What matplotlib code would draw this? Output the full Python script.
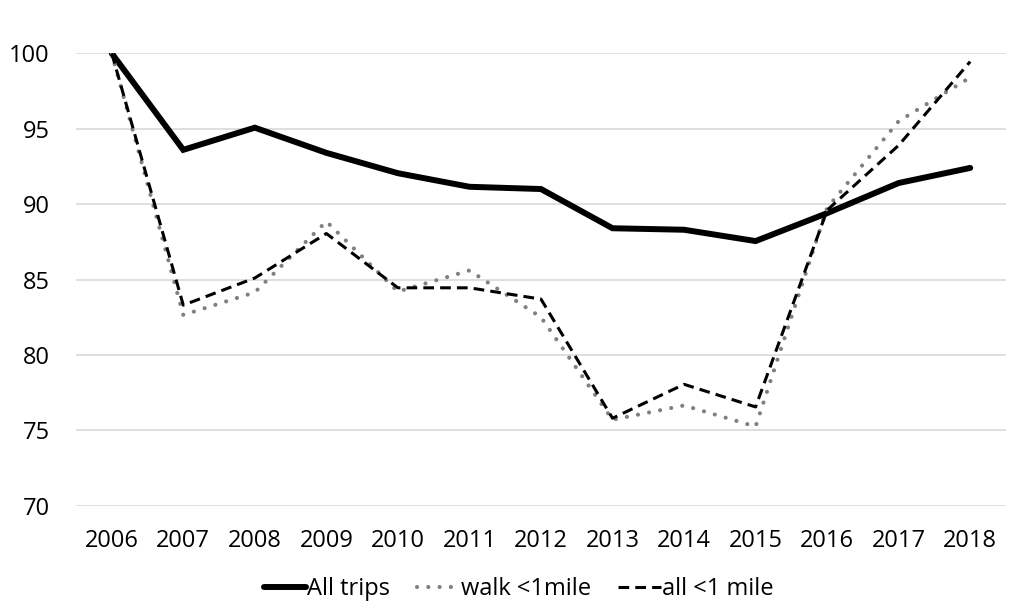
import matplotlib
matplotlib.use("Agg")
import matplotlib.pyplot as plt

years = ["2006", "2007", "2008", "2009", "2010", "2011", "2012",
         "2013", "2014", "2015", "2016", "2017", "2018"]
all_trips = [100, 93.6, 95.07, 93.4, 92.05, 91.15, 91.0, 88.4, 88.3, 87.55, 89.4, 91.4, 92.4]
walk_lt1 = [100, 82.65, 84.15, 88.85, 84.2, 85.6, 82.5, 75.7, 76.65, 75.25, 89.75, 95.5, 98.4]
all_lt1 = [100, 83.3, 85.1, 88.05, 84.45, 84.45, 83.7, 75.8, 78.05, 76.55, 89.6, 93.9, 99.45]
yticks = [70, 75, 80, 85, 90, 95, 100]

plt.rcParams['font.family'] = ['Open Sans', 'DejaVu Sans']

fig = plt.figure(figsize=(10.24, 6.15), dpi=100)
ax = fig.add_axes([0.0742, 0.1777, 0.9082, 0.7356])

x = list(range(len(years)))
ax.plot(x, all_trips, color='black', linewidth=4.3, solid_capstyle='round',
        solid_joinstyle='miter', label='All trips')
ax.plot(x, walk_lt1, color='#808080', linewidth=3.0, linestyle=(0, (0.01, 2.7)),
        dash_capstyle='round', label='walk <1mile')
ax.plot(x, all_lt1, color='black', linewidth=2.2, linestyle=(0, (3.5, 2.0)), label='all <1 mile')

ax.set_xlim(-0.5, len(years) - 0.5)
ax.set_ylim(70, 100)
ax.set_yticks(yticks)
ax.set_xticks(x)
ax.set_xticklabels(years)
ax.grid(axis='y', color='#d9d9d9', linewidth=1.2)
ax.set_axisbelow(True)
for s in ax.spines.values():
    s.set_visible(False)
ax.tick_params(length=0, labelsize=17)
ax.tick_params(axis='x', pad=17)
ax.tick_params(axis='y', pad=19)

leg = ax.legend(loc='center', bbox_to_anchor=(0.476, -0.184), ncol=3, frameon=False,
                fontsize=17, handlelength=1.8, handletextpad=0.05, columnspacing=1.15)

fig.savefig('out.png', dpi=100, facecolor='white')
